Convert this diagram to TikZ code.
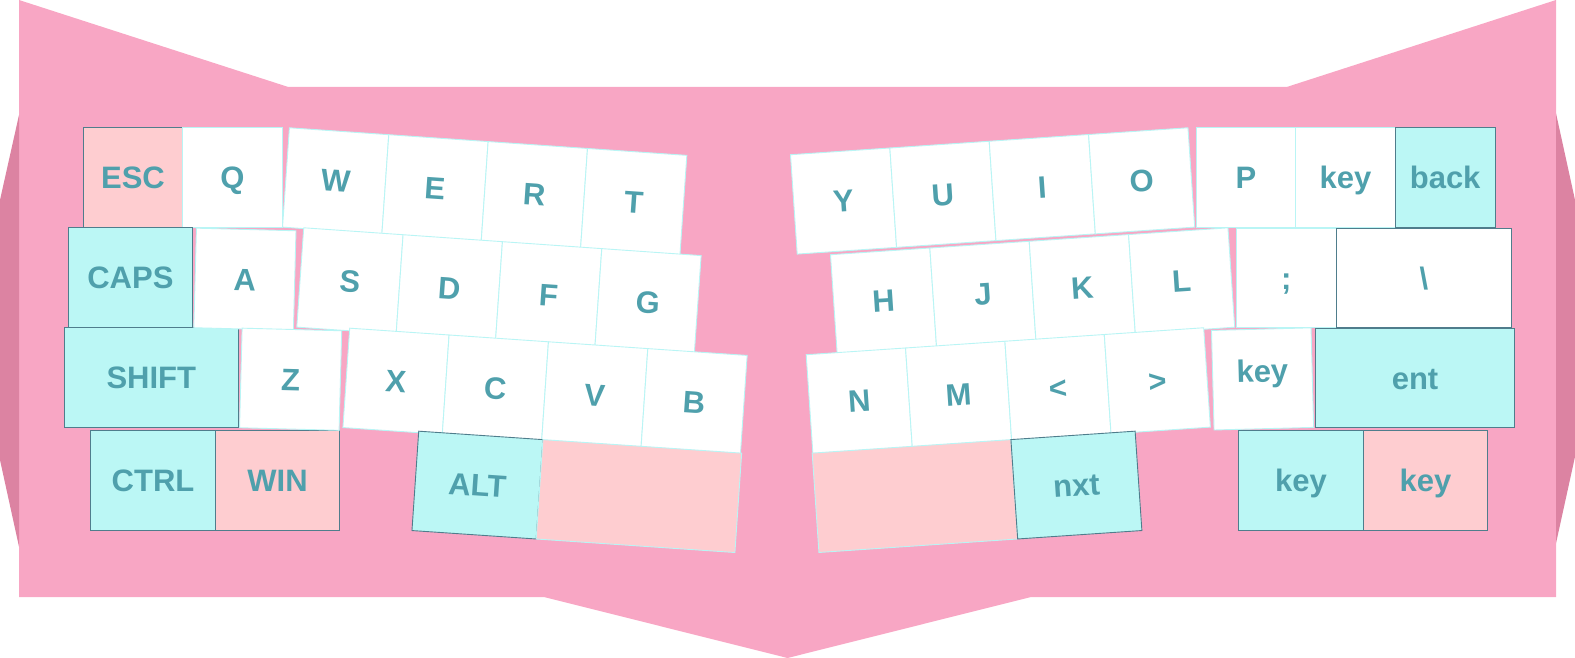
\documentclass[tikz,border=0pt]{standalone}
\usepackage{fontspec}
\setmainfont{Liberation Sans}
\usepackage{tikz}
\definecolor{BoardPink}{HTML}{F8A6C4}
\definecolor{SidePink}{HTML}{DC83A2}
\definecolor{KeyPink}{HTML}{FECDD0}
\definecolor{KeyCyan}{HTML}{BBF7F5}
\definecolor{KeyEdge}{HTML}{4F7D8C}
\definecolor{LightEdge}{HTML}{B9F5F5}
\definecolor{LabelTeal}{HTML}{4FA0AC}
\newcommand{\KeyU}{99.6pt}
\newcommand{\LabelFont}{\fontsize{31}{36}\selectfont\bfseries}

\begin{document}
\begin{tikzpicture}[x=1pt,y=1pt,line join=miter,
  key/.style={draw=LightEdge,fill=white,line width=0.9pt,inner sep=0pt,anchor=north west,
    minimum height=\KeyU,minimum width=#1*\KeyU,text=LabelTeal,font=\LabelFont,
    text height=22.2pt,text depth=0pt},
  key/.default=1,
  ckey/.style={key=#1,draw=KeyEdge,fill=KeyCyan},
  ckey/.default=1,
  pkey/.style={key=#1,draw=KeyEdge,fill=KeyPink},
  pkey/.default=1,
  dkey/.style={key=#1,draw=KeyEdge},
  dkey/.default=1,
  bkey/.style={key=#1,fill=KeyPink},
  bkey/.default=1]
  \useasboundingbox (0,0) rectangle (1575,-658);
  \fill[BoardPink] (19,0) -- (288.3,-87) -- (1286.7,-87) -- (1556,0) -- (1556,-597)
    -- (1031,-597) -- (787.5,-658) -- (544,-597) -- (19,-597) -- cycle;
  \fill[SidePink] (19,-115) -- (0,-200) -- (0,-460) -- (19,-546.7) -- cycle;
  \fill[SidePink] (1556,-113.3) -- (1575,-200) -- (1575,-456.7) -- (1556,-543.3) -- cycle;

  \node[pkey] (esc) at (82.7,-127.3) {ESC};
  \node[key] (q) at (182.3,-127.3) {Q};
  \node[ckey=1.25] (caps) at (67.7,-227.3) {CAPS};
  \node[ckey=1.75] (shift) at (63.7,-327.3) {SHIFT};
  \node[ckey=1.25] (ctrl) at (90.3,-430.3) {CTRL};
  \node[pkey=1.25] (win) at (214.8,-430.3) {WIN};
  \node[key,rotate=-1.5] (a) at (196,-227.7) {A};
  \node[key,rotate=-1.5] (z) at (241.7,-327.7) {Z};

  \begin{scope}[shift={(289,-127.3)},rotate=-3.97,transform shape]
    \foreach \i/\k in {0/W,1/E,2/R,3/T}
      \node[key] (key\k) at ({\i*\KeyU},0) {\k};
  \end{scope}
  \begin{scope}[shift={(303.3,-227.3)},rotate=-4,transform shape]
    \foreach \i/\k in {0/S,1/D,2/F,3/G}
      \node[key] (key\k) at ({\i*\KeyU},0) {\k};
  \end{scope}
  \begin{scope}[shift={(349.3,-327.7)},rotate=-3.92,transform shape]
    \foreach \i/\k in {0/X,1/C,2/V,3/B}
      \node[key] (key\k) at ({\i*\KeyU},0) {\k};
  \end{scope}
  \begin{scope}[shift={(418.3,-430.7)},rotate=-3.89,transform shape]
    \node[ckey=1.25] (alt) at (0,0) {ALT};
    \node[bkey=2] (lspace) at ({1.25*\KeyU},0) {};
  \end{scope}

  \begin{scope}[shift={(790,-154.3)},rotate=3.88,transform shape]
    \foreach \i/\k in {0/Y,1/U,2/I,3/O}
      \node[key] (key\k) at ({\i*\KeyU},0) {\k};
  \end{scope}
  \begin{scope}[shift={(830,-254.3)},rotate=3.87,transform shape]
    \foreach \i/\k in {0/H,1/J,2/K,3/L}
      \node[key] (key\k) at ({\i*\KeyU},0) {\k};
  \end{scope}
  \begin{scope}[shift={(805.7,-354.3)},rotate=3.88,transform shape]
    \foreach \i/\k/\nm in {0/N/N,1/M/M,2/</lt,3/>/gt}
      \node[key] (key\nm) at ({\i*\KeyU},0) {\k};
  \end{scope}
  \begin{scope}[shift={(811.7,-452.7)},rotate=3.89,transform shape]
    \node[bkey=2] (rspace) at (0,0) {};
    \node[ckey=1.25] (nxt) at ({2*\KeyU},0) {nxt};
  \end{scope}

  \node[key] (p) at (1195.7,-127.3) {P};
  \node[key] (keyA) at (1295.3,-127.3) {key};
  \node[ckey] (back) at (1394.9,-127.3) {back};
  \node[key] (semi) at (1236,-227.7) {;};
  \node[dkey=1.75] (bslash) at (1336.3,-227.7) {\textbackslash};
  \node[key,rotate=1.5,text depth=16pt] (keyB) at (1211,-330) {key};
  \node[ckey=2] (ent) at (1315,-327.7) {ent};
  \node[ckey=1.25] (keyC) at (1238.3,-430.3) {key};
  \node[pkey=1.25] (keyD) at (1362.8,-430.3) {key};
\end{tikzpicture}
\end{document}
